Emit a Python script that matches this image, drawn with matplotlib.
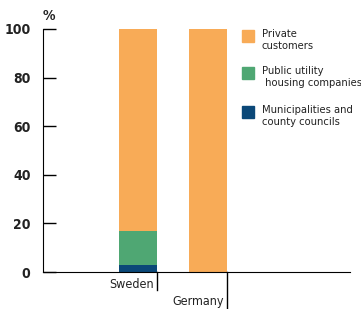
import matplotlib
matplotlib.use("Agg")
import matplotlib.pyplot as plt
import numpy as np
from matplotlib.patches import Rectangle

plt.rcParams['font.family'] = ['DejaVu Sans']
plt.rcParams['font.stretch'] = 'condensed'

countries = ["Sweden", "Germany"]
municipal = [3, 0]
public_util = [14, 0]
private = [83, 100]
yticks = [0, 20, 40, 60, 80, 100]
legend_labels = ["Private\ncustomers", "Public utility\n housing companies",
                 "Municipalities and\ncounty councils"]

c_priv = '#F8AB57'
c_pub = '#4FA773'
c_mun = '#0B4878'
W, H = 361, 309

fig = plt.figure(figsize=(3.61, 3.09), dpi=100)
ax = fig.add_axes([43 / W, 37 / H, 307 / W, 243 / H])

x = np.arange(len(countries))
w = 0.54
ax.bar(x, municipal, w, color=c_mun, linewidth=0)
ax.bar(x, public_util, w, bottom=municipal, color=c_pub, linewidth=0)
ax.bar(x, private, w, bottom=np.add(municipal, public_util), color=c_priv, linewidth=0)

ax.set_xlim(-1.357, 3.029)
ax.set_ylim(0, 100)
ax.set_yticks(yticks)
ax.set_yticklabels([str(t) for t in yticks], fontsize=10, fontweight='bold', color='#222222')
ax.tick_params(axis='y', direction='in', length=9, width=1, pad=9)
ax.set_xticks([])
for s in ['top', 'right']:
    ax.spines[s].set_visible(False)

# country labels hanging off small vertical lines
drops = [0.075, 0.16]
text_y = [-0.08, -0.15]
for i, name in enumerate(countries):
    xe = x[i] + w / 2
    ax.plot([xe, xe], [0, -drops[i]], color='black', lw=1,
            transform=ax.get_xaxis_transform(), clip_on=False)
    ax.text(xe - 0.05, text_y[i], name, ha='right', va='bottom',
            fontsize=9, color='#222222', transform=ax.get_xaxis_transform())

ax.text(0, 1.025, "%", ha='left', va='bottom', fontsize=10, fontweight='bold',
        color='#222222', transform=ax.transAxes)

# legend drawn by hand: square lines up with first text line
tops = [30, 67, 106]
for col, lab, t in zip([c_priv, c_pub, c_mun], legend_labels, tops):
    fig.patches.append(Rectangle((242 / W, 1 - (t + 12) / H), 12 / W, 12 / H,
                                 color=col, transform=fig.transFigure))
    fig.text(262 / W, 1 - (t - 1) / H, lab, ha='left', va='top', fontsize=8,
             color='#222222', linespacing=1.3)

fig.savefig("out.png", dpi=100)
